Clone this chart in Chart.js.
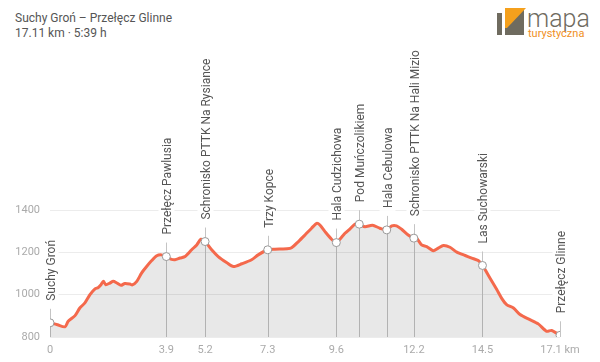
<!DOCTYPE html>
<html>
<head>
<meta charset="utf-8">
<script src="https://cdn.jsdelivr.net/npm/chart.js@4"></script>
<style>
  html, body { margin: 0; padding: 0; background: #fff; }
  body { width: 600px; height: 362px; position: relative; overflow: hidden; font-family: Roboto, sans-serif; }
  #title { position: absolute; left: 15px; top: 11px; font-size: 12px; line-height: 15px; color: #555; }
  #logo { position: absolute; left: 496px; top: 6px; width: 100px; height: 34px; }
  #profile { position: absolute; left: 0; top: 50px; display: block; }
</style>
</head>
<body>
<div id="title">Suchy Groń – Przełęcz Glinne<br>17.11 km · 5:39 h</div>

<!-- logo, rough drawing of the mapa turystyczna mark -->
<svg id="logo" viewBox="0 0 100 34">
  <polygon points="1,7 6,7 6,29 1,29" fill="#6f6b5f"/>
  <polygon points="9,12 28,2 28,29 9,29" fill="#6f6b5f"/>
  <polygon points="9,2 30,2 11,22 9,22" fill="#f5a01c"/>
  <text x="31" y="21" font-family="Roboto" font-weight="300" font-size="25" fill="#6f6b5f">mapa</text>
  <text x="32" y="31" font-family="Roboto" font-size="11" fill="#f0901e">turystyczna</text>
</svg>

<canvas id="profile" width="600" height="312"></canvas>

<script>
/* elevation profile: distance (km) / height (m) */
const profKm = [0, 0.25, 0.50, 0.61, 0.84, 1.0, 1.17, 1.34, 1.51, 1.62, 1.71, 1.79, 1.87, 2.01, 2.12, 2.24,
  2.38, 2.51, 2.68, 2.76, 2.91, 3.07, 3.24, 3.41, 3.58, 3.74, 3.9, 4.05, 4.19, 4.36, 4.53, 4.75, 4.92,
  5.06, 5.2, 5.42, 5.64, 5.92, 6.15, 6.43, 6.76, 6.98, 7.3, 7.54, 7.77, 7.95, 8.10, 8.33, 8.55, 8.77,
  8.94, 9.05, 9.22, 9.44, 9.6, 9.72, 9.89, 10.06, 10.23, 10.37, 10.56, 10.81, 11.06, 11.29, 11.46,
  11.62, 11.79, 12.01, 12.2, 12.29, 12.46, 12.63, 12.85, 13.02, 13.19, 13.41, 13.64, 13.92, 14.14,
  14.36, 14.5, 14.75, 14.98, 15.14, 15.31, 15.54, 15.76, 16.09, 16.37, 16.65, 16.82, 17.1];
const profElev = [867, 858, 848, 874, 901, 937, 961, 1000, 1027, 1034, 1047, 1063, 1047, 1055, 1063, 1055,
  1044, 1053, 1050, 1046, 1063, 1102, 1133, 1161, 1184, 1188, 1180, 1168, 1165, 1173, 1180, 1212, 1235,
  1262, 1251, 1212, 1180, 1152, 1133, 1146, 1165, 1188, 1212, 1215, 1216, 1217, 1222, 1251, 1282, 1314,
  1337, 1329, 1298, 1262, 1246, 1262, 1290, 1311, 1334, 1333, 1321, 1328, 1314, 1306, 1325,
  1325, 1309, 1282, 1267, 1267, 1235, 1227, 1208, 1220, 1232, 1224, 1201, 1185, 1173,
  1161, 1138, 1079, 1024, 984, 953, 937, 906, 882, 862, 827, 831, 808];

/* waypoints along the trail */
const wpNames = ['Suchy Groń', 'Przełęcz Pawlusia', 'Schronisko PTTK Na Rysiance', 'Trzy Kopce',
  'Hala Cudzichowa', 'Pod Muńczolikiem', 'Hala Cebulowa', 'Schronisko PTTK Na Hali Miziowej',
  'Las Suchowarski', 'Przełęcz Glinne'];
const wpKm = [0, 3.9, 5.2, 7.3, 9.6, 10.37, 11.29, 12.2, 14.5, 17.1];
const wpElev = [867, 1180, 1251, 1212, 1246, 1333, 1306, 1267, 1138, 808];

/* x axis ticks (only the waypoints that have room) */
const tickKm = [0, 3.9, 5.2, 7.3, 9.6, 12.2, 14.5, 17.1];
const tickLabels = ['0', '3.9', '5.2', '7.3', '9.6', '12.2', '14.5', '17.1 km'];

/* y axis */
const yTicks = [800, 1000, 1200, 1400];

/* waypoint stems under the fill, labels on top of everything */
const waypointPlugin = {
  id: 'waypoints',
  beforeDatasetsDraw(chart) {
    const { ctx, scales: { x, y }, chartArea } = chart;
    ctx.save();
    ctx.strokeStyle = '#c4c4c4';
    ctx.lineWidth = 1;
    wpKm.forEach((km, i) => {
      const px = Math.round(x.getPixelForValue(km)) + 0.5;
      const py = y.getPixelForValue(wpElev[i]);
      ctx.beginPath();
      ctx.moveTo(px, chartArea.bottom);
      ctx.lineTo(px, py - 14);
      ctx.stroke();
    });
    ctx.restore();
  },
  afterDraw(chart) {
    const { ctx, scales: { x, y } } = chart;
    ctx.save();
    ctx.font = '12px Roboto';
    ctx.textBaseline = 'middle';
    ctx.textAlign = 'left';
    wpNames.forEach((name, i) => {
      const px = Math.round(x.getPixelForValue(wpKm[i])) + 0.5;
      const py = y.getPixelForValue(wpElev[i]);
      const w = ctx.measureText(name).width;
      ctx.save();
      ctx.translate(px, py - 22);
      ctx.rotate(-Math.PI / 2);
      ctx.fillStyle = '#fff';
      ctx.fillRect(-3, -8, w + 6, 16);
      ctx.fillStyle = '#555';
      ctx.fillText(name, 0, 1);
      ctx.restore();
    });
    ctx.restore();
  }
};

new Chart(document.getElementById('profile'), {
  type: 'line',
  data: {
    datasets: [
      {
        data: wpKm.map((km, i) => ({ x: km, y: wpElev[i] })),
        showLine: false,
        pointRadius: 4,
        pointBorderWidth: 1,
        pointBackgroundColor: '#fff',
        pointBorderColor: '#999',
        order: 0
      },
      {
        data: profKm.map((km, i) => ({ x: km, y: profElev[i] })),
        borderColor: '#f4694c',
        borderWidth: 3,
        pointRadius: 0,
        fill: 'start',
        backgroundColor: 'rgba(0, 0, 0, 0.09)',
        tension: 0.25,
        order: 1
      }
    ]
  },
  options: {
    responsive: false,
    animation: false,
    layout: { padding: { top: 160, right: 40, left: 0, bottom: 0 } },
    plugins: { legend: { display: false }, tooltip: { enabled: false } },
    scales: {
      x: {
        type: 'linear',
        min: 0,
        max: 17.1,
        afterBuildTicks: (scale) => { scale.ticks = tickKm.map(v => ({ value: v })); },
        afterFit: (scale) => { scale.height = 25; },
        ticks: {
          autoSkip: false,
          maxRotation: 0,
          padding: 7,
          color: '#aaa',
          font: { family: 'Roboto', size: 11 },
          callback: (v, i) => tickLabels[i]
        },
        grid: { display: false, drawTicks: false },
        border: { display: false }
      },
      y: {
        min: 800,
        max: 1400,
        afterBuildTicks: (scale) => { scale.ticks = yTicks.map(v => ({ value: v })); },
        afterFit: (scale) => { scale.width = 50; },
        ticks: {
          padding: 10,
          color: '#aaa',
          font: { family: 'Roboto', size: 11 },
          callback: (v) => String(v)
        },
        grid: { color: '#ececec', drawTicks: false },
        border: { display: false }
      }
    }
  },
  plugins: [waypointPlugin]
});
</script>
</body>
</html>
